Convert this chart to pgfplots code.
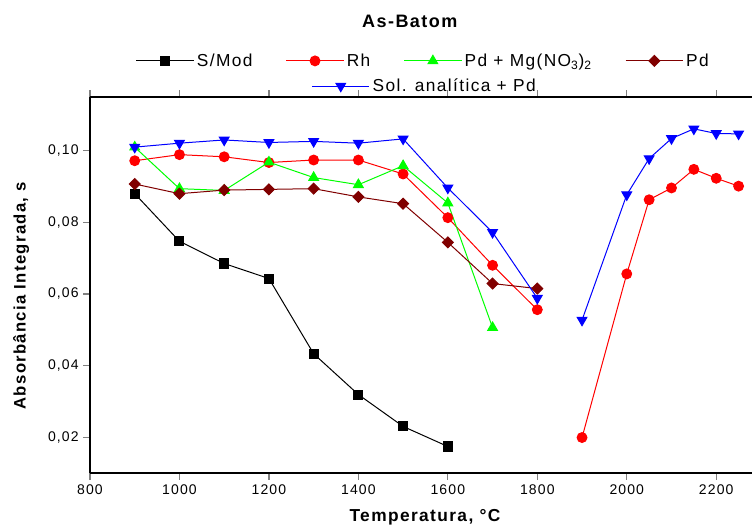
\documentclass[border=0pt]{standalone}
\usepackage{fontspec}
\setmainfont{Liberation Sans}[LetterSpace=8]
\usepackage{pgfplots}
\pgfplotsset{compat=1.18}
\definecolor{pdred}{HTML}{800000}
\definecolor{grn}{HTML}{00FF00}

\pgfplotsset{
  base/.style={width=496.5pt, height=282pt, scale only axis,
    xmin=800, xmax=2280, ymin=0.01, ymax=0.115, unbounded coords=jump,
    legend image code/.code={\draw[mark repeat=2, mark phase=2]
      plot coordinates {(0pt,0pt) (21.5pt,0pt) (43pt,0pt)};},
    legend cell align=left},
  lg/.style={draw=none, fill=none, inner sep=0pt, anchor=center,
    font=\fontsize{13}{15}\selectfont,
    /tikz/every even column/.append style={column sep=23pt}},
}

\begin{document}
\begin{tikzpicture}
\begin{axis}[base, name=ax,
    axis x line*=box, axis y line*=left, axis line style={-, line width=1.1pt},
    tick align=outside, major tick length=5pt, tick style={line width=0.9pt},
    xtick pos=both, xticklabel pos=lower, ytick pos=left,
    xtick={800,1000,1200,1400,1600,1800,2000,2200},
    ytick={0.02,0.04,0.06,0.08,0.10},
    tick label style={font=\fontsize{10.5}{12}\selectfont},
    /pgf/number format/assume math mode=true,
    xticklabel style={/pgf/number format/1000 sep={}},
    yticklabel style={/pgf/number format/.cd, fixed, fixed zerofill, precision=2, use comma},
    title={As-Batom},
    title style={at={(0.483,1.181)}, anchor=center, font=\bfseries\fontsize{13.5}{16}\selectfont},
    xlabel={Temperatura, °C},
    xlabel style={at={(0.506,-0.117)}, anchor=center, font=\bfseries\fontsize{13}{15}\selectfont},
    ylabel={Absorbância Integrada, s},
    ylabel style={at={(-0.104,0.471)}, anchor=center, font=\bfseries\fontsize{12.5}{15}\selectfont},
    legend columns=4,
    legend style={lg, at={(0.504,1.096)}},
  ]
  \addplot[black, line width=0.75pt, mark=square*, mark size=3.4pt, mark options={solid}]
    coordinates {(900,0.0880) (1000,0.0747) (1100,0.0685) (1200,0.0643) (1300,0.0433) (1400,0.0319) (1500,0.0230) (1600,0.0174)};
  \addlegendentry{S/Mod}
  \addplot[red, line width=0.75pt, mark=*, mark size=3.7pt, mark options={solid}]
    coordinates {(900,0.0972) (1000,0.0989) (1100,0.0983) (1200,0.0967) (1300,0.0974) (1400,0.0974) (1500,0.0935) (1600,0.0813) (1700,0.0680) (1800,0.0556)
      (1850,nan) (1900,0.0199) (2000,0.0656) (2050,0.0863) (2100,0.0896) (2150,0.0948) (2200,0.0923) (2250,0.0901)};
  \addlegendentry{Rh}
  \addplot[grn, line width=0.75pt, mark=triangle*, mark size=4.2pt, mark options={solid}]
    coordinates {(900,0.1010) (1000,0.0894) (1100,0.0889) (1200,0.0968) (1300,0.0925) (1400,0.0905) (1500,0.0958) (1600,0.0854) (1700,0.0506)};
  \addlegendentry{Pd + Mg(NO\textsubscript{3})\textsubscript{2}}
  \addplot[pdred, line width=0.75pt, mark=square*, mark size=2.9pt, mark options={solid, rotate=45}]
    coordinates {(900,0.0907) (1000,0.0880) (1100,0.0890) (1200,0.0892) (1300,0.0894) (1400,0.0871) (1500,0.0852) (1600,0.0744) (1700,0.0629) (1800,0.0615)};
  \addlegendentry{Pd}
\end{axis}
\begin{axis}[base, at={(ax.south west)}, anchor=south west, hide axis,
    legend style={lg, at={(0.506,1.029)}}]
  \addplot[blue, line width=0.75pt, mark=triangle*, mark size=4.2pt, mark options={solid, rotate=180}]
    coordinates {(900,0.1010) (1000,0.1021) (1100,0.1030) (1200,0.1023) (1300,0.1026) (1400,0.1021) (1500,0.1033) (1600,0.0896) (1700,0.0772) (1800,0.0588)
      (1850,nan) (1900,0.0527) (2000,0.0877) (2050,0.0978) (2100,0.1034) (2150,0.1061) (2200,0.1048) (2250,0.1047)};
  \addlegendentry{Sol. analítica + Pd}
\end{axis}
\pgfresetboundingbox
\path ([xshift=-67.5pt, yshift=-42.75pt]ax.south west) rectangle ([yshift=72.75pt]ax.north east);
\end{tikzpicture}
\end{document}
